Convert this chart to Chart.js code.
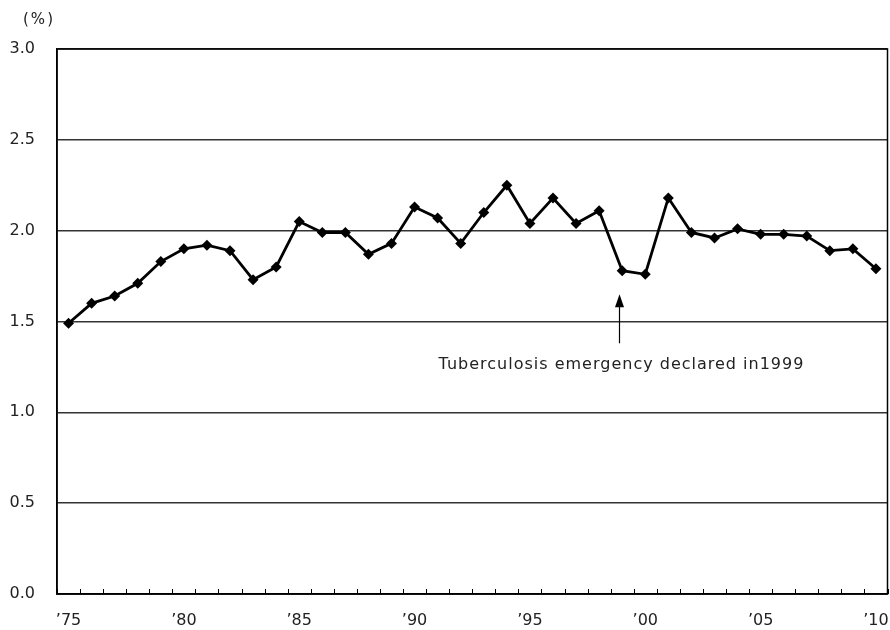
<!DOCTYPE html>
<html>
<head>
<meta charset="utf-8">
<script src="https://cdn.jsdelivr.net/npm/chart.js@4"></script>
<style>
  html, body { margin: 0; padding: 0; background: #fff; }
  #wrap { width: 890px; height: 630px; position: relative; }
</style>
</head>
<body>
<div id="wrap"><canvas id="c" width="890" height="630"></canvas></div>
<script>
const years = [1975,1976,1977,1978,1979,1980,1981,1982,1983,1984,1985,1986,1987,1988,1989,1990,1991,1992,1993,1994,1995,1996,1997,1998,1999,2000,2001,2002,2003,2004,2005,2006,2007,2008,2009,2010];
const values = [1.49,1.60,1.64,1.71,1.83,1.90,1.92,1.89,1.73,1.80,2.05,1.99,1.99,1.87,1.93,2.13,2.07,1.93,2.10,2.25,2.04,2.18,2.04,2.11,1.78,1.76,2.18,1.99,1.96,2.01,1.98,1.98,1.97,1.89,1.90,1.79];
const xTickLabels = {1975:"’75",1980:"’80",1985:"’85",1990:"’90",1995:"’95",2000:"’00",2005:"’05",2010:"’10"};
const yTicks = [0,0.5,1.0,1.5,2.0,2.5,3.0];
const unitLabel = "(%)";
const noteText = "Tuberculosis emergency declared in1999";
const noteYear = 1999;
const noteArrowFrom = 1.38;
const noteArrowTo = 1.65;
const noteTextAt = 1.26;

const FONT = "'DejaVu Sans', sans-serif";

const extras = {
  id: 'extras',
  afterDraw(chart) {
    const {ctx, chartArea: a, scales: {x, y}} = chart;
    ctx.save();
    // plot border
    ctx.strokeStyle = '#000';
    ctx.lineWidth = 1.5;
    ctx.strokeRect(a.left, a.top, a.right - a.left, a.bottom - a.top);
    // inward tick marks between categories
    ctx.lineWidth = 1;
    const step = x.getPixelForValue(1) - x.getPixelForValue(0);
    for (let i = 0; i <= years.length; i++) {
      const px = Math.round(x.getPixelForValue(i) - step / 2) + 0.5;
      ctx.beginPath();
      ctx.moveTo(px, a.bottom);
      ctx.lineTo(px, a.bottom - 5);
      ctx.stroke();
    }
    // unit label
    ctx.fillStyle = '#222';
    ctx.font = "15px " + FONT;
    ctx.letterSpacing = '2px';
    ctx.textAlign = 'center';
    ctx.textBaseline = 'middle';
    ctx.fillText(unitLabel, 39, 20);
    // annotation arrow
    const ax = Math.round(x.getPixelForValue(years.indexOf(noteYear))) - 2.5;
    const y1 = y.getPixelForValue(noteArrowFrom);
    const y2 = y.getPixelForValue(noteArrowTo);
    ctx.strokeStyle = '#000';
    ctx.lineWidth = 1.2;
    ctx.beginPath();
    ctx.moveTo(ax, y1);
    ctx.lineTo(ax, y2 + 10);
    ctx.stroke();
    ctx.fillStyle = '#000';
    ctx.beginPath();
    ctx.moveTo(ax, y2);
    ctx.lineTo(ax - 4.5, y2 + 13);
    ctx.lineTo(ax + 4.5, y2 + 13);
    ctx.closePath();
    ctx.fill();
    // annotation text
    ctx.fillStyle = '#222';
    ctx.font = "16px " + FONT;
    ctx.letterSpacing = '1px';
    ctx.textAlign = 'center';
    ctx.fillText(noteText, ax + 2, y.getPixelForValue(noteTextAt));
    ctx.restore();
  }
};

new Chart(document.getElementById('c'), {
  type: 'line',
  data: {
    labels: years,
    datasets: [{
      data: values,
      borderColor: '#000',
      backgroundColor: '#000',
      borderWidth: 2.8,
      pointStyle: 'rectRot',
      pointRadius: 5.5,
      pointBorderWidth: 0,
      pointBackgroundColor: '#000',
      tension: 0,
      fill: false,
      clip: false
    }]
  },
  options: {
    responsive: false,
    animation: false,
    devicePixelRatio: 1,
    layout: { autoPadding: false, padding: { left: 0, right: 2.5, top: 49, bottom: 0 } },
    plugins: { legend: { display: false }, tooltip: { enabled: false } },
    scales: {
      x: {
        type: 'category',
        offset: true,
        grid: { display: false, offset: true },
        border: { display: true, color: '#000', width: 1.5 },
        ticks: {
          autoSkip: false,
          maxRotation: 0,
          padding: 9,
          color: '#222',
          font: { family: FONT, size: 16 },
          callback: function(v, i) { return xTickLabels[years[i]] || ''; }
        },
        afterFit(s) { s.height = 36; s.paddingLeft = 0; s.paddingRight = 0; }
      },
      y: {
        min: 0, max: 3,
        afterBuildTicks(s) { s.ticks = yTicks.map(v => ({ value: v })); },
        grid: { color: '#333', lineWidth: 1.5, drawTicks: false },
        border: { display: true, color: '#000', width: 1.5 },
        ticks: {
          padding: 22,
          color: '#222',
          font: { family: FONT, size: 16 },
          callback: v => v.toFixed(1)
        },
        afterFit(s) { s.width = 57; s.paddingTop = 0; s.paddingBottom = 0; }
      }
    }
  },
  plugins: [extras]
});
</script>
</body>
</html>
